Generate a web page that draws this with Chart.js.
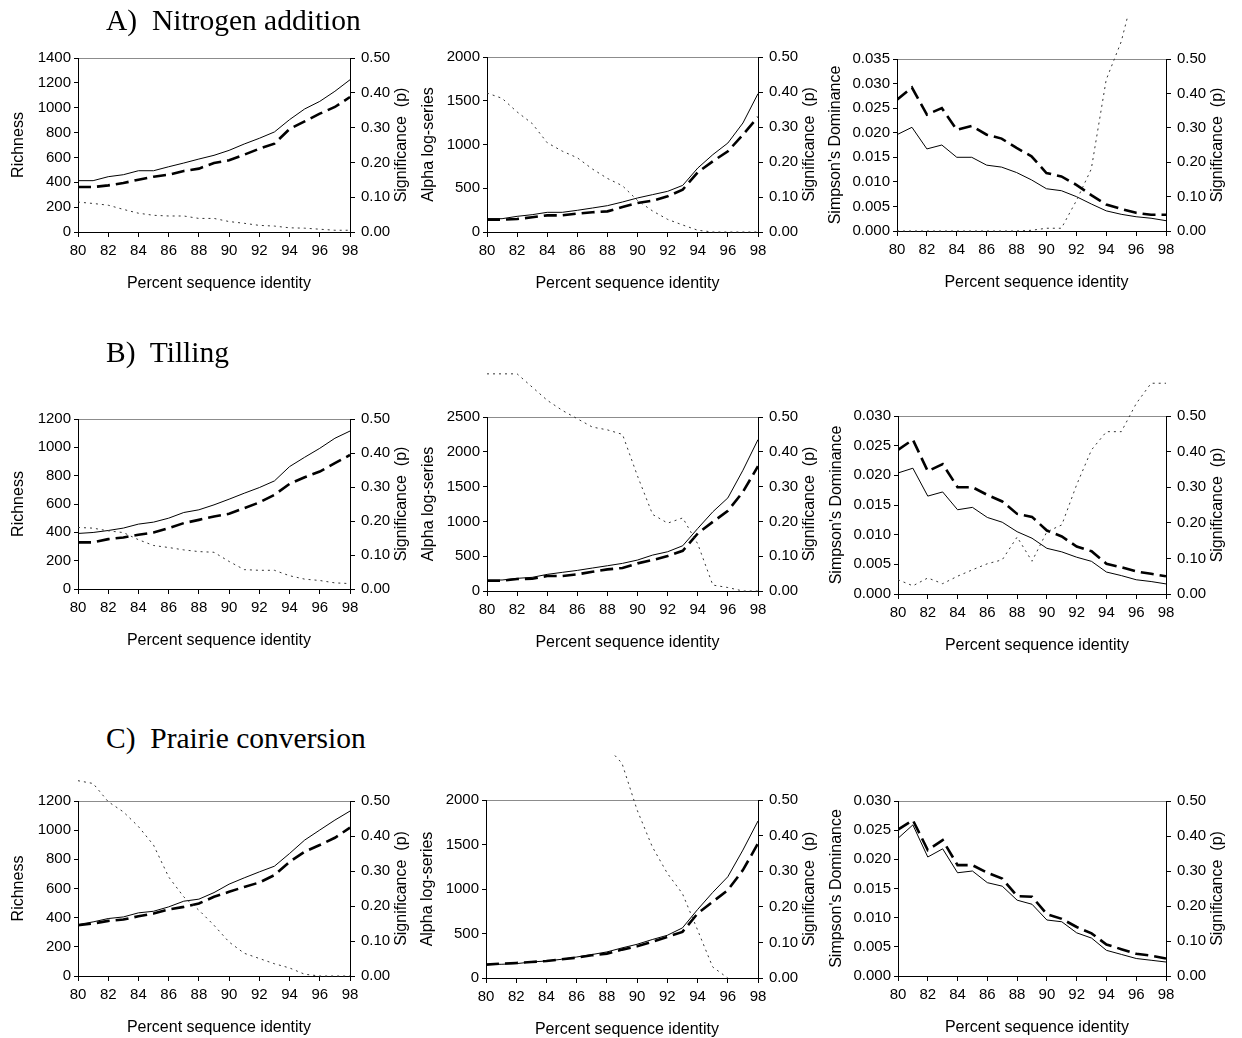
<!DOCTYPE html>
<html>
<head>
<meta charset="utf-8">
<script src="https://cdn.jsdelivr.net/npm/chart.js@4.4.1/dist/chart.umd.min.js"></script>
<style>
  body { margin: 0; background: #fff; width: 1242px; height: 1038px; position: relative; overflow: hidden; }
  .head { position: absolute; left: 106px; font-family: "Liberation Serif", "Times New Roman", serif; font-size: 29.5px; line-height: 30px; white-space: pre; color: #000; z-index: 2; }
</style>
</head>
<body>
<div class="head" style="top:5px">A)  Nitrogen addition</div>
<div class="head" style="top:337px">B)  Tilling</div>
<div class="head" style="top:723px">C)  Prairie conversion</div>
<script>
// percent sequence identity (x axis)
const identity = [80, 81, 82, 83, 84, 85, 86, 87, 88, 89, 90, 91, 92, 93, 94, 95, 96, 97, 98];

// A) Nitrogen addition
const nRichSolid  = [413, 413, 445, 461, 493, 493, 525, 555, 587, 617, 657, 708, 754, 805, 904, 990, 1051, 1132, 1225];
const nRichDashed = [362, 362, 375, 394, 421, 445, 461, 491, 510, 555, 577, 622, 670, 711, 829, 890, 952, 1006, 1086];
const nRichP      = [0.086, 0.082, 0.077, 0.065, 0.054, 0.048, 0.046, 0.046, 0.039, 0.039, 0.030, 0.025, 0.019, 0.017, 0.012, 0.011, 0.008, 0.005, 0.005];
const nAlphaSolid  = [152, 152, 179, 198, 225, 225, 248, 274, 301, 343, 389, 427, 465, 533, 731, 884, 1017, 1246, 1581];
const nAlphaDashed = [141, 141, 149, 168, 190, 190, 210, 225, 236, 286, 331, 358, 408, 484, 682, 808, 922, 1112, 1314];
const nAlphaP      = [0.397, 0.382, 0.343, 0.310, 0.255, 0.231, 0.212, 0.180, 0.153, 0.132, 0.090, 0.060, 0.036, 0.020, 0.005, 0, 0, 0, 0];
const nSimpSolid  = [0.0196, 0.0211, 0.0167, 0.0175, 0.0150, 0.0150, 0.0134, 0.0130, 0.0119, 0.0104, 0.0086, 0.0082, 0.0070, 0.0055, 0.0041, 0.0034, 0.0029, 0.0026, 0.0021];
const nSimpDashed = [0.0267, 0.0292, 0.0237, 0.0250, 0.0206, 0.0214, 0.0196, 0.0188, 0.0169, 0.0152, 0.0118, 0.0111, 0.0094, 0.0073, 0.0054, 0.0045, 0.0037, 0.0033, 0.0033];
const nSimpP      = [0, 0, 0, 0, 0, 0, 0, 0, 0, 0.002, 0.008, 0.008, 0.088, 0.180, 0.440, 0.550, 0.720, null, null];

// B) Tilling
const tRichSolid  = [392, 399, 413, 430, 458, 472, 500, 540, 559, 594, 634, 676, 716, 763, 864, 930, 993, 1064, 1115];
const tRichDashed = [329, 329, 352, 364, 383, 399, 430, 465, 488, 512, 531, 571, 611, 665, 742, 789, 829, 888, 946];
const tRichP      = [0.181, 0.179, 0.171, 0.166, 0.145, 0.128, 0.122, 0.115, 0.110, 0.108, 0.081, 0.057, 0.055, 0.055, 0.039, 0.029, 0.025, 0.018, 0.016];
const tAlphaSolid  = [158, 158, 182, 196, 239, 268, 296, 330, 363, 397, 445, 516, 564, 650, 899, 1138, 1338, 1735, 2175];
const tAlphaDashed = [148, 148, 172, 177, 215, 215, 239, 277, 311, 330, 397, 445, 502, 578, 827, 994, 1152, 1424, 1793];
const tAlphaP      = [0.624, 0.624, 0.624, 0.586, 0.548, 0.519, 0.495, 0.471, 0.463, 0.450, 0.330, 0.220, 0.195, 0.210, 0.135, 0.017, 0.010, 0, 0];
const tSimpSolid  = [0.0204, 0.0212, 0.0165, 0.0172, 0.0142, 0.0146, 0.0129, 0.0121, 0.0105, 0.0094, 0.0077, 0.0071, 0.0062, 0.0055, 0.0037, 0.0031, 0.0024, 0.0021, 0.0017];
const tSimpDashed = [0.0243, 0.0260, 0.0207, 0.0219, 0.0180, 0.0180, 0.0167, 0.0156, 0.0135, 0.0130, 0.0107, 0.0097, 0.0080, 0.0072, 0.0051, 0.0045, 0.0038, 0.0034, 0.0030];
const tSimpP      = [0.040, 0.023, 0.045, 0.029, 0.050, 0.068, 0.085, 0.096, 0.160, 0.092, 0.175, 0.194, 0.307, 0.405, 0.456, 0.456, 0.535, 0.592, 0.592];

// C) Prairie conversion
const pRichSolid  = [353, 371, 394, 405, 433, 444, 474, 513, 527, 572, 630, 673, 714, 753, 840, 932, 1001, 1069, 1131];
const pRichDashed = [348, 360, 378, 387, 410, 428, 456, 474, 497, 543, 577, 611, 641, 692, 783, 852, 898, 948, 1017];
const pRichP      = [0.558, 0.550, 0.498, 0.469, 0.427, 0.374, 0.283, 0.226, 0.188, 0.145, 0.097, 0.065, 0.050, 0.035, 0.023, 0.005, 0, 0, 0];
const pAlphaSolid  = [154, 154, 161, 180, 191, 210, 236, 263, 293, 338, 379, 432, 480, 563, 769, 961, 1137, 1437, 1764];
const pAlphaDashed = [150, 161, 169, 180, 191, 210, 229, 255, 274, 319, 356, 405, 462, 518, 724, 856, 987, 1212, 1512];
const pAlphaP      = [null, null, null, null, null, null, null, null, 0.650, 0.603, 0.472, 0.369, 0.294, 0.237, 0.135, 0.031, 0, null, null];
const pSimpSolid  = [0.0236, 0.0259, 0.0204, 0.0218, 0.0177, 0.0180, 0.0160, 0.0154, 0.0130, 0.0123, 0.0096, 0.0093, 0.0074, 0.0065, 0.0044, 0.0037, 0.0030, 0.0027, 0.0024];
const pSimpDashed = [0.0251, 0.0267, 0.0216, 0.0233, 0.0190, 0.0190, 0.0177, 0.0167, 0.0137, 0.0136, 0.0106, 0.0098, 0.0084, 0.0073, 0.0054, 0.0046, 0.0038, 0.0035, 0.0030];

// left axis ticks per metric
const richTicks  = { max: 1400, step: 200, dec: 0 };
const richTicksB = { max: 1200, step: 200, dec: 0 };
const alphaTicks  = { max: 2000, step: 500, dec: 0 };
const alphaTicksB = { max: 2500, step: 500, dec: 0 };
const simpTicks  = { max: 0.035, step: 0.005, dec: 3 };
const simpTicksB = { max: 0.030, step: 0.005, dec: 3 };

const FONT = '"Liberation Sans", Arial, sans-serif';
const tickFont = { family: FONT, size: 15 };
const titleFont = { family: FONT, size: 16 };

function series(vals) {
  return identity.map((x, i) => ({ x: x, y: vals[i] }));
}

// x title sits a little right of centre, right title reads bottom-to-top
const axisTitles = {
  id: 'axisTitles',
  afterDraw(chart) {
    const ctx = chart.ctx;
    const area = chart.chartArea;
    const s = chart.scales.y2;
    ctx.save();
    ctx.font = titleFont.size + 'px ' + FONT;
    ctx.fillStyle = '#000';
    ctx.textAlign = 'center';
    ctx.textBaseline = 'middle';
    ctx.fillText('Percent sequence identity', (area.left + area.right) / 2 + 5, area.bottom + 52);
    ctx.translate(s.right - 10, (s.top + s.bottom) / 2);
    ctx.rotate(-Math.PI / 2);
    ctx.fillText('Significance  (p)', 0, 0);
    ctx.restore();
  }
};

function makePanel(cfg) {
  const WL = cfg.wl, WR = 62, HX = 64;
  const PT = cfg.top - cfg.canvasTop;
  const W = WL + (cfg.right - cfg.left) + WR;
  const H = PT + (cfg.bottom - cfg.top) + HX;
  const cv = document.createElement('canvas');
  cv.width = W;
  cv.height = H;
  cv.style.cssText = 'position:absolute;left:' + (cfg.left - WL) + 'px;top:' + cfg.canvasTop + 'px;width:' + W + 'px;height:' + H + 'px';
  document.body.appendChild(cv);

  const datasets = [];
  if (cfg.p) {
    datasets.push({
      data: series(cfg.p), yAxisID: 'y2',
      borderColor: '#333', borderWidth: 1, borderDash: [2, 4], clip: false
    });
  }
  datasets.push({
    data: series(cfg.dashed), yAxisID: 'y',
    borderColor: '#000', borderWidth: 2.6, borderDash: [13, 6]
  });
  datasets.push({
    data: series(cfg.solid), yAxisID: 'y',
    borderColor: '#000', borderWidth: 1
  });

  new Chart(cv, {
    type: 'line',
    data: { datasets: datasets },
    plugins: [axisTitles],
    options: {
      responsive: false,
      animation: false,
      devicePixelRatio: 1,
      layout: { padding: { top: PT, left: 0, right: 0, bottom: 0 } },
      plugins: { legend: { display: false }, tooltip: { enabled: false } },
      elements: { point: { radius: 0 }, line: { tension: 0 } },
      scales: {
        x: {
          type: 'linear', position: 'bottom', min: 80, max: 98,
          ticks: { stepSize: 2, font: tickFont, color: '#000', padding: 5, maxRotation: 0, autoSkip: false },
          grid: { drawOnChartArea: false, tickLength: 5, color: '#000' },
          border: { color: '#000' },
          title: { display: false },
          afterFit: s => { s.height = HX; }
        },
        xt: {
          type: 'linear', position: 'top', min: 80, max: 98,
          ticks: { display: false },
          grid: { display: false },
          border: { display: true, color: '#8c8c8c' },
          afterFit: s => { s.height = 0; }
        },
        y: {
          position: 'left', min: 0, max: cfg.ticks.max,
          ticks: { stepSize: cfg.ticks.step, font: tickFont, color: '#000', padding: 3, callback: v => v.toFixed(cfg.ticks.dec) },
          grid: { drawOnChartArea: false, tickLength: 4, color: '#000' },
          border: { color: '#000' },
          title: { display: true, text: cfg.yTitle, font: titleFont, color: '#000', padding: { top: cfg.tp, bottom: 0 } },
          afterFit: s => { s.width = WL; }
        },
        y2: {
          position: 'right', min: 0, max: 0.5,
          ticks: { stepSize: 0.1, font: tickFont, color: '#000', padding: 6, callback: v => v.toFixed(2) },
          grid: { drawOnChartArea: false, tickLength: 5, color: '#000' },
          border: { color: '#000' },
          title: { display: false },
          afterFit: s => { s.width = WR; }
        }
      }
    }
  });
}

const panels = [
  { left: 78,  right: 350,  top: 58,  bottom: 232, canvasTop: 18,  wl: 70, tp: 1,   yTitle: 'Richness',            ticks: richTicks,   solid: nRichSolid,  dashed: nRichDashed,  p: nRichP },
  { left: 487, right: 758,  top: 57,  bottom: 232, canvasTop: 18,  wl: 70, tp: 1.5, yTitle: 'Alpha log-series',    ticks: alphaTicks,  solid: nAlphaSolid, dashed: nAlphaDashed, p: nAlphaP },
  { left: 897, right: 1166, top: 59,  bottom: 231, canvasTop: 18,  wl: 73, tp: 1.5, yTitle: "Simpson's Dominance", ticks: simpTicks,   solid: nSimpSolid,  dashed: nSimpDashed,  p: nSimpP },
  { left: 78,  right: 350,  top: 419, bottom: 589, canvasTop: 365, wl: 70, tp: 1,   yTitle: 'Richness',            ticks: richTicksB,  solid: tRichSolid,  dashed: tRichDashed,  p: tRichP },
  { left: 487, right: 758,  top: 417, bottom: 591, canvasTop: 365, wl: 70, tp: 1.5, yTitle: 'Alpha log-series',    ticks: alphaTicksB, solid: tAlphaSolid, dashed: tAlphaDashed, p: tAlphaP },
  { left: 898, right: 1166, top: 416, bottom: 594, canvasTop: 365, wl: 73, tp: 1.5, yTitle: "Simpson's Dominance", ticks: simpTicksB,  solid: tSimpSolid,  dashed: tSimpDashed,  p: tSimpP },
  { left: 78,  right: 350,  top: 801, bottom: 976, canvasTop: 755, wl: 70, tp: 1,   yTitle: 'Richness',            ticks: richTicksB,  solid: pRichSolid,  dashed: pRichDashed,  p: pRichP },
  { left: 486, right: 758,  top: 800, bottom: 978, canvasTop: 755, wl: 70, tp: 1.5, yTitle: 'Alpha log-series',    ticks: alphaTicks,  solid: pAlphaSolid, dashed: pAlphaDashed, p: pAlphaP },
  { left: 898, right: 1166, top: 801, bottom: 976, canvasTop: 755, wl: 73, tp: 1.5, yTitle: "Simpson's Dominance", ticks: simpTicksB,  solid: pSimpSolid,  dashed: pSimpDashed,  p: null }
];

panels.forEach(makePanel);
</script>
</body>
</html>
